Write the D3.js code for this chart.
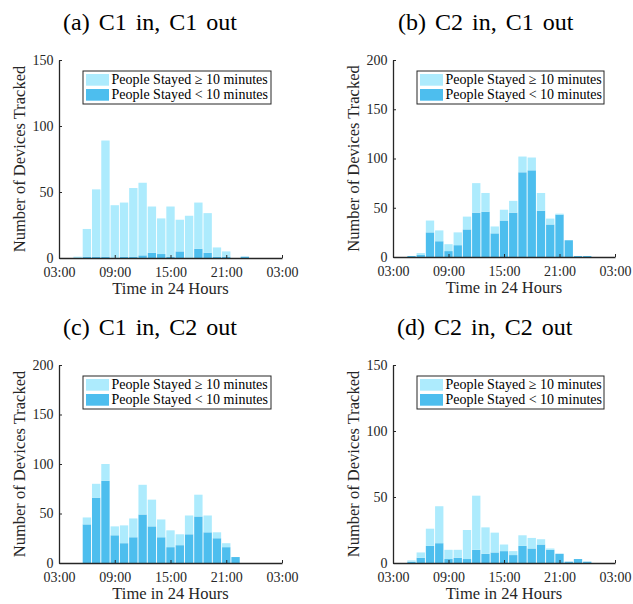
<!DOCTYPE html>
<html>
<head>
<meta charset="utf-8">
<script src="https://cdn.jsdelivr.net/npm/d3@7"></script>
<style>
  html, body { margin: 0; padding: 0; background: #fff; }
  svg { display: block; font-family: "Liberation Serif", "Times New Roman", serif; }
</style>
</head>
<body>
<svg id="chart" width="633" height="604"></svg>
<script>
// Hours after 03:00, one bar per hour.
const hours = d3.range(0, 24);
const xTicks = [0, 6, 12, 18, 24];

// Devices per hour that stayed < 10 minutes / >= 10 minutes (stacked).
const shortA = [0,0,0,1,1,1,0,1,1,2,4,3,1,5,0,7,4,1,1,0,1,0,0,0];
const longA  = [0,0,1,21,51,88,40,41,52,55,35,27,38,24,32,35,30,7,4,0,0,0,0,0];

const shortB = [0,0,1,2,25,16,6,12,28,45,46,24,37,45,86,88,47,33,43,17,1,1,0,0];
const longB  = [0,0,0,2,12,11,7,13,13,30,19,7,11,12,16,13,18,6,1,0,0,0,0,0];

const shortC = [0,0,0,39,66,83,28,20,26,49,37,26,16,18,29,47,31,25,16,6,0,0,0,0];
const longC  = [0,0,0,7,14,17,9,18,19,30,27,18,17,11,19,22,17,6,4,0,0,0,0,0];

const shortD = [0,0,1,4,13,15,3,4,3,10,7,8,9,6,13,11,14,10,7,1,3,1,0,0];
const longD  = [0,0,1,4,13,28,7,6,22,41,20,15,5,3,8,8,4,1,0,0,0,0,0,0];

const titles = ['(a) C1 in, C1 out', '(b) C2 in, C1 out', '(c) C1 in, C2 out', '(d) C2 in, C2 out'];
const yMaxes = [150, 200, 200, 150];
const legendLabels = ['People Stayed \u2265 10 minutes', 'People Stayed < 10 minutes'];

const panels = [
    { x0: 59,  x1: 282, y0: 60,  y1: 258, tx: 63,  ty: 30,  s: shortA, l: longA },
    { x0: 393, x1: 615, y0: 60,  y1: 257, tx: 398, ty: 30,  s: shortB, l: longB },
    { x0: 59,  x1: 282, y0: 365, y1: 563, tx: 63,  ty: 335, s: shortC, l: longC },
    { x0: 393, x1: 615, y0: 365, y1: 563, tx: 397, ty: 335, s: shortD, l: longD }
];

const LIGHT = '#adebfd';
const DARK  = '#4dbeee';
const AXIS  = '#262626';

const svg = d3.select('#chart');

function fmtHour(h) {
    return String((3 + h) % 24).padStart(2, '0') + ':00';
}

panels.forEach((p, i) => {
    const g = svg.append('g');

    const x = d3.scaleLinear().domain([0, 24]).range([p.x0, p.x1]);
    const y = d3.scaleLinear().domain([0, yMaxes[i]]).range([p.y1, p.y0]);
    const bw = (x(1) - x(0)) * 0.9;

    const rows = hours.map((h, k) => ({ h: h, short: p.s[k], long: p.l[k] }));
    const stacked = d3.stack().keys(['short', 'long'])(rows);
    const colors = { short: DARK, long: LIGHT };

    // Bars — dark (< 10 min) at the bottom, light (>= 10 min) stacked on top.
    g.selectAll('g.series')
        .data(stacked)
        .join('g')
        .attr('class', 'series')
        .attr('fill', d => colors[d.key])
        .selectAll('rect')
        .data(d => d.filter(v => v[1] > v[0]))
        .join('rect')
        .attr('x', d => x(d.data.h) - bw / 2)
        .attr('width', bw)
        .attr('y', d => y(d[1]))
        .attr('height', d => y(d[0]) - y(d[1]));

    // Axes with inward ticks, no box.
    const yAxis = d3.axisLeft(y)
        .tickValues(d3.range(0, yMaxes[i] + 1, 50))
        .tickSizeInner(-3).tickSizeOuter(0).tickPadding(5.5);
    const xAxis = d3.axisBottom(x)
        .tickValues(xTicks).tickFormat(fmtHour)
        .tickSizeInner(-3).tickSizeOuter(0).tickPadding(9);

    [
        g.append('g').attr('transform', `translate(${p.x0},0)`).call(yAxis),
        g.append('g').attr('transform', `translate(0,${p.y1})`).call(xAxis)
    ].forEach(ax => {
        ax.select('.domain').attr('stroke', AXIS).attr('stroke-width', 1.3);
        ax.selectAll('.tick line').attr('stroke', AXIS);
        ax.selectAll('.tick text')
            .attr('fill', AXIS)
            .style('font-size', '14px')
            .style('font-family', '"Liberation Serif", serif');
    });

    // Axis titles.
    g.append('text')
        .attr('x', (p.x0 + p.x1) / 2)
        .attr('y', p.y1 + 36)
        .attr('text-anchor', 'middle')
        .attr('fill', AXIS)
        .style('font-size', '16.5px')
        .text('Time in 24 Hours');

    g.append('text')
        .attr('transform', `translate(${p.x0 - 34.5},${(p.y0 + p.y1) / 2}) rotate(-90)`)
        .attr('text-anchor', 'middle')
        .attr('fill', AXIS)
        .style('font-size', '16.5px')
        .text('Number of Devices Tracked');

    // Subfigure caption.
    g.append('text')
        .attr('x', p.tx)
        .attr('y', p.ty)
        .attr('fill', '#000')
        .style('font-size', '24px')
        .style('word-spacing', '3px')
        .text(titles[i]);

    // Legend box.
    const lx = p.x0 + 24, ly = p.y0 + 11;
    const lw = p.x1 - 11 - lx, lh = 33;
    const leg = g.append('g').attr('transform', `translate(${lx},${ly})`);
    leg.append('rect')
        .attr('width', lw).attr('height', lh)
        .attr('fill', '#fff')
        .attr('stroke', AXIS)
        .attr('stroke-width', 1);
    [LIGHT, DARK].forEach((c, k) => {
        leg.append('rect')
            .attr('x', 3).attr('y', 3 + k * 15)
            .attr('width', 23).attr('height', 11.7)
            .attr('fill', c);
        leg.append('text')
            .attr('x', 28.5).attr('y', 12.5 + k * 15)
            .attr('fill', '#000')
            .style('font-size', '14px')
            .text(legendLabels[k]);
    });
});
</script>
</body>
</html>
